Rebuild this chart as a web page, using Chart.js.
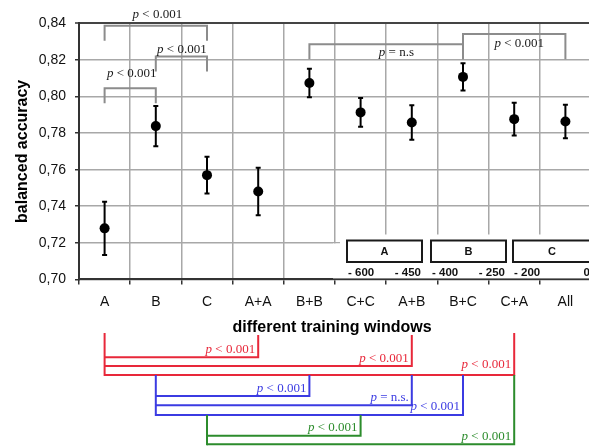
<!DOCTYPE html>
<html>
<head>
<meta charset="utf-8">
<script src="https://cdn.jsdelivr.net/npm/chart.js@4.4.1/dist/chart.umd.min.js"></script>
<style>
  html, body { margin: 0; padding: 0; background: #fff; }
  #wrap { width: 589px; height: 446px; overflow: hidden; }
  canvas { display: block; }
</style>
</head>
<body>
<div id="wrap"><canvas id="c" width="600" height="446"></canvas></div>
<script>
// Training-window combinations and their balanced accuracy (mean and error half-width)
const categories = ['A', 'B', 'C', 'A+A', 'B+B', 'C+C', 'A+B', 'B+C', 'C+A', 'All'];
const accuracy   = [0.7279, 0.7838, 0.7570, 0.7481, 0.8074, 0.7913, 0.7858, 0.8107, 0.7876, 0.7863];
const errorHalf  = [0.0146, 0.0110, 0.0100, 0.0130, 0.0078, 0.0078, 0.0094, 0.0075, 0.0089, 0.0092];
const yTicks     = [0.70, 0.72, 0.74, 0.76, 0.78, 0.80, 0.82, 0.84];

// Time windows shown in the inset
const windowNames  = ['A', 'B', 'C'];
const windowStarts = ['- 600', '- 400', '- 200'];
const windowEnds   = ['- 450', '- 250', '0'];

// Pairwise comparisons above the points (category indices, y levels in accuracy units)
const topPairs = [
  { from: 0, to: 2, top: 0.8387, leg: 0.8305, text: ' < 0.001', at: 1.03, ty: 0.8427 },
  { from: 1, to: 2, top: 0.8218, leg: 0.8136, text: ' < 0.001', at: 1.51, ty: 0.8240 },
  { from: 0, to: 1, top: 0.8045, leg: 0.7963, text: ' < 0.001', at: 0.53, ty: 0.8107 },
  { from: 4, to: 7, top: 0.8286, leg: 0.8204, text: ' = n.s',   at: 5.70, ty: 0.8222 },
  { from: 7, to: 9, top: 0.8342, leg: 0.8204, text: ' < 0.001', at: 8.10, ty: 0.8273 }
];

// Comparisons below the axis, grouped by reference window
const bottomGroups = [
  { color: '#e8283a', base: 0, top: 333, pairs: [
    { to: 3, y: 357.3, legTop: 335, text: ' < 0.001', ty: 352.7 },
    { to: 6, y: 366.0, legTop: 335, text: ' < 0.001', ty: 361.7 },
    { to: 8, y: 375.0, legTop: 333, text: ' < 0.001', ty: 368.3 } ] },
  { color: '#3b3be2', base: 1, top: 375, pairs: [
    { to: 4, y: 396.0, legTop: 375, text: ' < 0.001', ty: 391.7 },
    { to: 6, y: 405.3, legTop: 375, text: ' = n.s.',  ty: 400.7 },
    { to: 7, y: 415.0, legTop: 375, text: ' < 0.001', ty: 410.0 } ] },
  { color: '#2c8c2c', base: 2, top: 415, pairs: [
    { to: 5, y: 435.7, legTop: 415, text: ' < 0.001', ty: 431.0 },
    { to: 8, y: 444.3, legTop: 375, text: ' < 0.001', ty: 440.0 } ] }
];

const SANS = '"Liberation Sans", Arial, sans-serif';
const SERIF = '"Liberation Serif", "Times New Roman", serif';

function pLabel(ctx, rest, x, y, align, color) {
  const it = 'italic 13px ' + SERIF, rg = '13px ' + SERIF;
  ctx.font = it; const wp = ctx.measureText('p').width;
  ctx.font = rg; const wr = ctx.measureText(rest).width;
  const total = wp + wr;
  const x0 = align === 'right' ? x - total : align === 'center' ? x - total / 2 : x;
  ctx.textAlign = 'left';
  ctx.textBaseline = 'alphabetic';
  ctx.fillStyle = color;
  ctx.font = it; ctx.fillText('p', x0, y);
  ctx.font = rg; ctx.fillText(rest, x0 + wp, y);
}

// Error bars, drawn under the points
const errorBars = {
  id: 'errorBars',
  beforeDatasetsDraw(chart) {
    const { ctx, scales: { x, y } } = chart;
    ctx.save();
    ctx.strokeStyle = '#000';
    ctx.lineWidth = 2;
    accuracy.forEach((v, i) => {
      const px = x.getPixelForValue(i);
      const y1 = y.getPixelForValue(v + errorHalf[i]);
      const y2 = y.getPixelForValue(v - errorHalf[i]);
      ctx.beginPath();
      ctx.moveTo(px, y1); ctx.lineTo(px, y2);
      ctx.moveTo(px - 2.5, y1); ctx.lineTo(px + 2.5, y1);
      ctx.moveTo(px - 2.5, y2); ctx.lineTo(px + 2.5, y2);
      ctx.stroke();
    });
    ctx.restore();
  }
};

// Inset with the three time windows
const windowInset = {
  id: 'windowInset',
  beforeDatasetsDraw(chart) {
    const { ctx, chartArea: a, scales: { x } } = chart;
    const edge = x.getPixelForValue(4.5);
    ctx.save();
    ctx.fillStyle = '#fff';
    ctx.fillRect(edge - 2, 243.5, a.right - edge + 12, a.bottom - 244.5);
    ctx.fillRect(edge + 5, 234.5, a.right - edge + 12, 10);
    const lefts = [edge + 12, edge + 96, edge + 178];
    const rights = [edge + 87, edge + 171, a.right];
    ctx.strokeStyle = '#1a1a1a';
    ctx.lineWidth = 2;
    windowNames.forEach((n, i) => {
      ctx.strokeRect(lefts[i], 240.5, rights[i] - lefts[i], 21.5);
      ctx.fillStyle = '#111';
      ctx.font = 'bold 11px ' + SANS;
      ctx.textAlign = 'center';
      ctx.textBaseline = 'middle';
      ctx.fillText(n, (lefts[i] + rights[i]) / 2, 251.5);
      ctx.font = 'bold 11.5px ' + SANS;
      ctx.textBaseline = 'alphabetic';
      ctx.textAlign = 'left';
      ctx.fillText(windowStarts[i], lefts[i] + 1, 275.7);
      ctx.textAlign = 'right';
      ctx.fillText(windowEnds[i], rights[i] - 1, 275.7);
    });
    ctx.restore();
  }
};

// Significance brackets and axis titles
const annotations = {
  id: 'annotations',
  afterDraw(chart) {
    const { ctx, chartArea: a, scales: { x, y } } = chart;
    ctx.save();
    ctx.lineJoin = 'miter';
    ctx.lineCap = 'butt';

    // brackets above the points
    ctx.strokeStyle = '#8c8c8c';
    ctx.lineWidth = 2;
    topPairs.forEach(p => {
      const x1 = x.getPixelForValue(p.from), x2 = x.getPixelForValue(p.to);
      const yt = y.getPixelForValue(p.top), yl = y.getPixelForValue(p.leg);
      ctx.beginPath();
      ctx.moveTo(x1, yl); ctx.lineTo(x1, yt); ctx.lineTo(x2, yt); ctx.lineTo(x2, yl);
      ctx.stroke();
    });
    topPairs.forEach(p => {
      pLabel(ctx, p.text, x.getPixelForValue(p.at), y.getPixelForValue(p.ty), 'center', '#1a1a1a');
    });

    // brackets below the axis
    bottomGroups.forEach(g => {
      const bx = x.getPixelForValue(g.base);
      const bottom = Math.max(...g.pairs.map(p => p.y));
      ctx.strokeStyle = g.color;
      ctx.lineWidth = 2;
      ctx.beginPath();
      ctx.moveTo(bx, g.top); ctx.lineTo(bx, bottom + 1);
      ctx.stroke();
      g.pairs.forEach(p => {
        const tx = x.getPixelForValue(p.to);
        ctx.beginPath();
        ctx.moveTo(bx, p.y); ctx.lineTo(tx, p.y); ctx.lineTo(tx, p.legTop);
        ctx.stroke();
      });
      g.pairs.forEach(p => {
        pLabel(ctx, p.text, x.getPixelForValue(p.to) - 3, p.ty, 'right', g.color);
      });
    });

    // axis titles
    ctx.fillStyle = '#000';
    ctx.font = 'bold 16px ' + SANS;
    ctx.textAlign = 'center';
    ctx.textBaseline = 'alphabetic';
    ctx.fillText('different training windows', (a.left + a.right) / 2 - 3, 331.5);
    ctx.translate(23, (a.top + a.bottom) / 2);
    ctx.rotate(-Math.PI / 2);
    ctx.textBaseline = 'middle';
    ctx.fillText('balanced accuracy', 0, 0);
    ctx.restore();
  }
};

new Chart(document.getElementById('c'), {
  type: 'line',
  data: {
    labels: categories,
    datasets: [{
      data: accuracy,
      showLine: false,
      pointRadius: 5,
      pointHoverRadius: 5,
      pointBackgroundColor: '#000',
      pointBorderColor: '#000',
      pointBorderWidth: 0
    }]
  },
  options: {
    responsive: false,
    devicePixelRatio: 1,
    animation: false,
    layout: { padding: { top: 23.3, right: 9, left: 0, bottom: 0 } },
    plugins: { legend: { display: false }, tooltip: { enabled: false } },
    scales: {
      x: {
        type: 'category',
        offset: true,
        afterFit(s) { s.height = 446 - 279.4; },
        grid: { offset: true, color: '#a8a8a8', lineWidth: 1.5, tickColor: '#333', tickLength: 5, tickWidth: 1.5 },
        border: { color: '#333', width: 2 },
        ticks: { color: '#111', font: { family: SANS, size: 14 }, padding: 9, maxRotation: 0, autoSkip: false }
      },
      y: {
        min: 0.70,
        max: 0.84,
        afterFit(s) { s.width = 79; },
        afterBuildTicks(s) { s.ticks = yTicks.map(v => ({ value: v })); },
        grid: {
          color: c => (c.tick && c.tick.value > 0.839) ? '#444' : '#a8a8a8',
          lineWidth: c => (c.tick && c.tick.value > 0.839) ? 2 : 1.5,
          tickColor: '#333', tickLength: 4, tickWidth: 1.5
        },
        border: { color: '#333', width: 2 },
        ticks: {
          color: '#111', font: { family: SANS, size: 14 }, padding: 9,
          callback: v => v.toFixed(2).replace('.', ',')
        }
      }
    }
  },
  plugins: [errorBars, windowInset, annotations]
});
</script>
</body>
</html>
